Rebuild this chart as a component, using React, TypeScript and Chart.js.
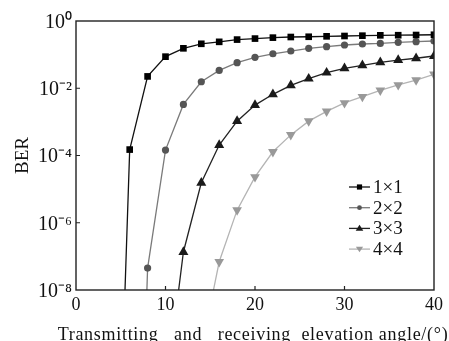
import React, { useEffect, useRef } from 'react';
import { Chart, registerables } from 'chart.js';

Chart.register(...registerables);

// ---- data ----
const seriesNames = ['1×1', '2×2', '3×3', '4×4'];

const angles1 = [5.35, 6, 8, 10, 12, 14, 16, 18, 20, 22, 24, 26, 28, 30, 32, 34, 36, 38, 40];
const ber1 = [1e-9, 1.5e-4, 2.25e-2, 0.087, 0.154, 0.21, 0.24, 0.28, 0.3, 0.32, 0.334, 0.34, 0.35, 0.358, 0.366, 0.375, 0.378, 0.383, 0.39];

const angles2 = [7.8, 8, 10, 12, 14, 16, 18, 20, 22, 24, 26, 28, 30, 32, 34, 36, 38, 40];
const ber2 = [1e-9, 4.5e-8, 1.45e-4, 3.3e-3, 1.56e-2, 0.034, 0.0575, 0.083, 0.106, 0.128, 0.154, 0.172, 0.193, 0.207, 0.216, 0.232, 0.243, 0.254];

const angles3 = [11, 12, 14, 16, 18, 20, 22, 24, 26, 28, 30, 32, 34, 36, 38, 40];
const ber3 = [1e-9, 1.35e-7, 1.55e-5, 2.04e-4, 1.05e-3, 3.16e-3, 6.6e-3, 0.0122, 0.0192, 0.029, 0.039, 0.048, 0.059, 0.069, 0.078, 0.091];

const angles4 = [14.6, 16, 18, 20, 22, 24, 26, 28, 30, 32, 34, 36, 38, 40];
const ber4 = [1e-9, 6.9e-8, 2.37e-6, 2.3e-5, 1.29e-4, 4.1e-4, 1.05e-3, 2.05e-3, 3.65e-3, 5.6e-3, 8.7e-3, 0.0125, 0.0175, 0.026];

const xTickValues = [0, 10, 20, 30, 40];
const yTickValues = [1e-8, 1e-6, 1e-4, 1e-2, 1];

const xTitle = 'Transmitting   and   receiving  elevation angle/(°)';
const yTitle = 'BER';

// ---- styles ----
const FONT = '"Liberation Serif", "Times New Roman", serif';
const lineColors = ['#111111', '#7a7a7a', '#222222', '#b4b4b4'];
const markerColors = ['#000000', '#555555', '#1a1a1a', '#999999'];
const markerStyles = ['rect', 'circle', 'triangle', 'triangle'];
const markerRotations = [0, 0, 0, 180];
const markerRadii = [4.7, 3.6, 5.8, 5.6];

const sup: Record<string, string> = { '-': '⁻', '0': '⁰', '1': '¹', '2': '²', '3': '³', '4': '⁴', '5': '⁵', '6': '⁶', '7': '⁷', '8': '⁸', '9': '⁹' };
const toSup = (n: number) => String(n).split('').map((c) => sup[c] || c).join('');

const makePoints = (xs: number[], ys: number[]) => xs.map((x, i) => ({ x, y: ys[i] }));

const drawMarker = (ctx: CanvasRenderingContext2D, i: number, x: number, y: number) => {
  ctx.beginPath();
  if (i === 0) {
    ctx.rect(x - 2.6, y - 2.6, 5.2, 5.2);
  } else if (i === 1) {
    ctx.arc(x, y, 2.4, 0, Math.PI * 2);
  } else if (i === 2) {
    ctx.moveTo(x, y - 3.6);
    ctx.lineTo(x + 3.8, y + 2.4);
    ctx.lineTo(x - 3.8, y + 2.4);
    ctx.closePath();
  } else {
    ctx.moveTo(x, y + 3.2);
    ctx.lineTo(x + 3.6, y - 2.4);
    ctx.lineTo(x - 3.6, y - 2.4);
    ctx.closePath();
  }
  ctx.fillStyle = markerColors[i];
  ctx.fill();
};

const decorPlugin = {
  id: 'decor',
  afterDatasetsDraw(chart: any) {
    const { ctx, chartArea: a, scales } = chart;
    ctx.save();
    ctx.strokeStyle = '#222';
    ctx.lineWidth = 1.4;
    ctx.strokeRect(a.left, a.top, a.right - a.left, a.bottom - a.top);
    ctx.lineWidth = 1.2;
    ctx.beginPath();
    xTickValues.forEach((v) => {
      const px = scales.x.getPixelForValue(v);
      if (px > a.left + 1 && px < a.right - 1) {
        ctx.moveTo(px, a.bottom);
        ctx.lineTo(px, a.bottom - 4);
      }
    });
    yTickValues.forEach((v) => {
      const py = scales.y.getPixelForValue(v);
      if (py > a.top + 1 && py < a.bottom - 1) {
        ctx.moveTo(a.left, py);
        ctx.lineTo(a.left + 4, py);
      }
    });
    ctx.stroke();
    ctx.restore();
  },
  afterDraw(chart: any) {
    const { ctx, chartArea: a } = chart;
    ctx.save();
    // legend inside the plot
    const x0 = a.right - 85;
    const y0 = a.top + 166;
    const step = 20.7;
    ctx.font = `19px ${FONT}`;
    ctx.textBaseline = 'middle';
    ctx.textAlign = 'left';
    seriesNames.forEach((name, i) => {
      const y = y0 + i * step;
      ctx.strokeStyle = lineColors[i];
      ctx.lineWidth = 1.3;
      ctx.beginPath();
      ctx.moveTo(x0, y);
      ctx.lineTo(x0 + 21, y);
      ctx.stroke();
      drawMarker(ctx, i, x0 + 10.5, y);
      ctx.fillStyle = '#111';
      ctx.fillText(name, x0 + 24, y + 1);
    });
    // x-axis title
    ctx.font = `18px ${FONT}`;
    (ctx as any).letterSpacing = '0.7px';
    ctx.textAlign = 'center';
    ctx.textBaseline = 'alphabetic';
    ctx.fillStyle = '#111';
    ctx.fillText(xTitle, (a.left + a.right) / 2 - 2, a.bottom + 50);
    (ctx as any).letterSpacing = '0px';
    ctx.restore();
  },
};

export default function App() {
  const ref = useRef<HTMLCanvasElement>(null);

  useEffect(() => {
    if (!ref.current) return;
    const all = [
      [angles1, ber1],
      [angles2, ber2],
      [angles3, ber3],
      [angles4, ber4],
    ];
    const datasets = all.map(([xs, ys], i) => ({
      label: seriesNames[i],
      data: makePoints(xs as number[], ys as number[]),
      borderColor: lineColors[i],
      borderWidth: 1.3,
      backgroundColor: markerColors[i],
      pointBackgroundColor: markerColors[i],
      pointBorderColor: markerColors[i],
      pointBorderWidth: 0,
      pointStyle: markerStyles[i] as any,
      rotation: markerRotations[i],
      pointRadius: (c: any) => (c.raw && c.raw.y < 1e-8 ? 0 : markerRadii[i]),
      pointHoverRadius: 0,
      tension: 0,
      fill: false,
    }));

    const chart = new Chart(ref.current, {
      type: 'line',
      data: { datasets },
      plugins: [decorPlugin],
      options: {
        animation: false,
        responsive: false,
        events: [],
        layout: { padding: { top: 21, right: 15, left: 0, bottom: 0 } },
        plugins: { legend: { display: false }, tooltip: { enabled: false } },
        scales: {
          x: {
            type: 'linear',
            min: 0,
            max: 40,
            afterBuildTicks: (s: any) => {
              s.ticks = xTickValues.map((v) => ({ value: v }));
            },
            ticks: {
              font: { family: FONT, size: 18 },
              color: '#111',
              padding: 4,
              maxRotation: 0,
              autoSkip: false,
            },
            grid: { display: false, drawTicks: false },
            border: { display: false },
            title: { display: false },
            afterFit: (s: any) => {
              s.height = 51;
              s.paddingLeft = 0;
              s.paddingRight = 0;
            },
          },
          y: {
            type: 'logarithmic',
            min: 1e-8,
            max: 1,
            afterBuildTicks: (s: any) => {
              s.ticks = yTickValues.map((v) => ({ value: v, major: true }));
            },
            ticks: {
              font: { family: FONT, size: 20 },
              color: '#111',
              padding: 4,
              labelOffset: 1.5,
              autoSkip: false,
              callback: (v: any) => '10' + toSup(Math.round(Math.log10(Number(v)))),
            },
            grid: { display: false, drawTicks: false },
            border: { display: false },
            title: {
              display: true,
              text: yTitle,
              color: '#111',
              font: { family: FONT, size: 19 },
              padding: { top: 12, bottom: 0 },
            },
            afterFit: (s: any) => {
              s.width = 76;
              s.paddingTop = 0;
              s.paddingBottom = 0;
            },
          },
        },
      },
    } as any);
    return () => chart.destroy();
  }, []);

  return (
    <div style={{ position: 'absolute', left: 0, top: 0, width: 449, height: 341, background: '#fff' }}>
      <canvas ref={ref} width={449} height={341} style={{ display: 'block', width: 449, height: 341 }} />
    </div>
  );
}
